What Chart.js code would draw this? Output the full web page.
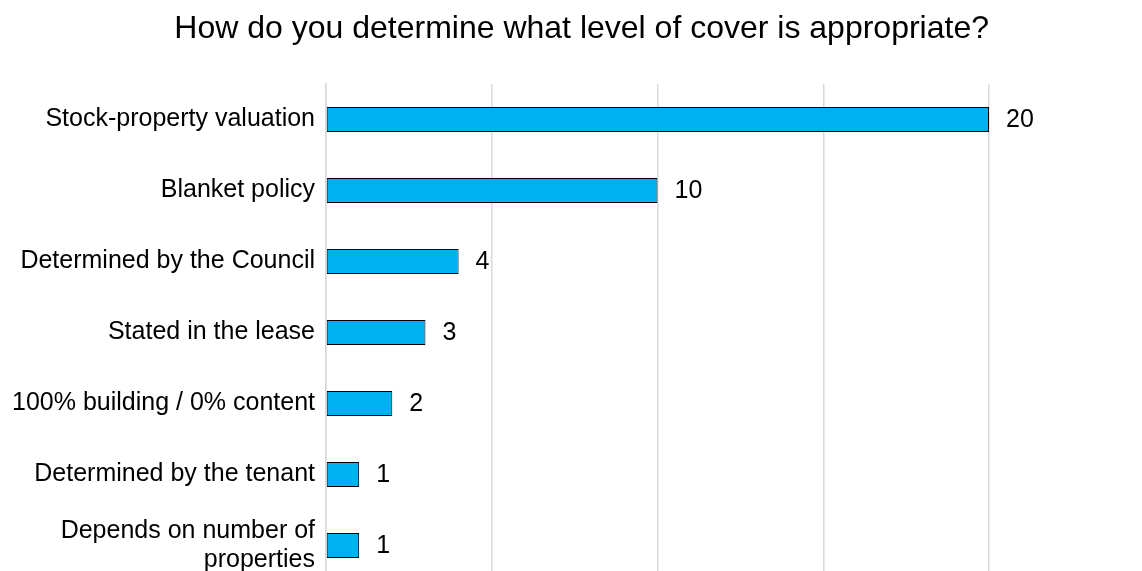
<!DOCTYPE html>
<html lang="en">
  <head>
    <meta charset="UTF-8" />
    <title>Level of cover</title>
    <script src="https://cdn.jsdelivr.net/npm/chart.js"></script>
    <style>
      html, body { margin: 0; padding: 0; background: #fff; overflow: hidden; }
      canvas { display: block; }
    </style>
  </head>
  <body>
    <canvas id="barChart" width="1142" height="582"></canvas>
    <script>
      const categories = [
        "Stock-property valuation",
        "Blanket policy",
        "Determined by the Council",
        "Stated in the lease",
        "100% building / 0% content",
        "Determined by the tenant",
        ["Depends on number of", "properties"],
      ];
      const counts = [20, 10, 4, 3, 2, 1, 1];
      const axisMax = 20;
      const axisStep = 5;

      const fontFamily = "'Liberation Sans', Arial, sans-serif";

      // write the count just past the end of each bar
      const valueLabels = {
        id: "valueLabels",
        afterDatasetsDraw(chart) {
          const ctx = chart.ctx;
          const meta = chart.getDatasetMeta(0);
          ctx.save();
          ctx.font = "25px " + fontFamily;
          ctx.fillStyle = "#000";
          ctx.textAlign = "left";
          ctx.textBaseline = "middle";
          meta.data.forEach((bar, i) => {
            ctx.fillText(String(counts[i]), bar.x + 17, bar.y + 1);
          });
          ctx.restore();
        },
      };

      const ctx = document.getElementById("barChart").getContext("2d");
      new Chart(ctx, {
        type: "bar",
        data: {
          labels: categories,
          datasets: [
            {
              data: counts,
              backgroundColor: "#00B0F0",
              borderColor: "#000",
              borderWidth: 1,
              borderSkipped: false,
              barPercentage: 0.35,
              categoryPercentage: 1,
            },
          ],
        },
        options: {
          indexAxis: "y",
          responsive: false,
          animation: false,
          layout: { autoPadding: false, padding: { right: 153, bottom: 1 } },
          plugins: {
            legend: { display: false },
            tooltip: { enabled: false },
            title: {
              display: true,
              align: "end",
              text: "How do you determine what level of cover is appropriate?",
              color: "#000",
              font: { family: fontFamily, size: 32, weight: "normal", lineHeight: 1.2 },
              padding: { top: 9.5, bottom: 36.1 },
            },
          },
          scales: {
            x: {
              min: 0,
              max: axisMax,
              afterFit(scale) {
                scale.height = 0;
              },
              ticks: { display: false, stepSize: axisStep },
              grid: { color: "#d9d9d9", lineWidth: 1.5, drawTicks: false },
              border: { display: false },
            },
            y: {
              afterFit(scale) {
                scale.width = 326;
                // labels sit inside their rows, no extra room above/below
                scale.paddingTop = 0;
                scale.paddingBottom = 0;
              },
              ticks: {
                color: "#000",
                padding: 11,
                font: { family: fontFamily, size: 25, lineHeight: 1.13 },
              },
              grid: { display: false, drawTicks: false },
              border: { display: true, color: "#d9d9d9", width: 1.5 },
            },
          },
        },
        plugins: [valueLabels],
      });
    </script>
  </body>
</html>
